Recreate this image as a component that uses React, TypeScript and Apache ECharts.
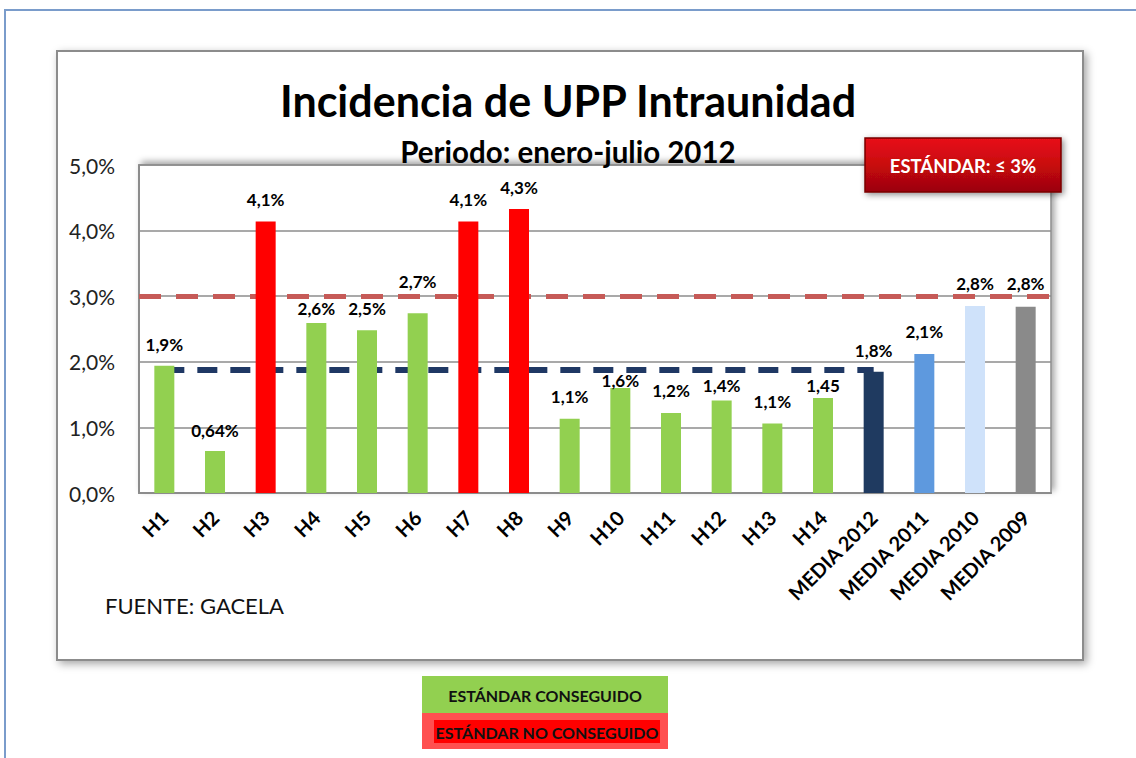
import React, { useEffect, useRef } from "react";
import * as echarts from "echarts";

const categories = ["H1", "H2", "H3", "H4", "H5", "H6", "H7", "H8", "H9", "H10", "H11", "H12", "H13", "H14", "MEDIA 2012", "MEDIA 2011", "MEDIA 2010", "MEDIA 2009"];
const values = [1.94, 0.64, 4.14, 2.59, 2.48, 2.74, 4.14, 4.33, 1.13, 1.6, 1.22, 1.41, 1.06, 1.45, 1.85, 2.12, 2.85, 2.84];
const valueLabels = ["1,9%", "0,64%", "4,1%", "2,6%", "2,5%", "2,7%", "4,1%", "4,3%", "1,1%", "1,6%", "1,2%", "1,4%", "1,1%", "1,45", "1,8%", "2,1%", "2,8%", "2,8%"];
const status = ["ok", "ok", "no", "ok", "ok", "ok", "no", "no", "ok", "ok", "ok", "ok", "ok", "ok", "m2012", "m2011", "m2010", "m2009"];
const standardValue = 3.0;
const media2012Line = 1.88;
const yTicks = [0, 1, 2, 3, 4, 5];

// manual label nudges (style only), pixels downward
const labelShift = [0, 1, 0, 7, 0, -10, 0, 0, -1, 14, -1, 6, 0, 9, 0, -1, -1, -2];

const statusColor: Record<string, string> = {
  ok: "#92D050",
  no: "#FF0000",
  m2012: "#1F3A60",
  m2011: "#5E99DE",
  m2010: "#CFE2FA",
  m2009: "#8A8A8A",
};

const FONT = "Lato, 'Open Sans', sans-serif";

export default function App() {
  const ref = useRef<HTMLDivElement>(null);
  useEffect(() => {
    if (!ref.current) return;
    const chart = echarts.init(ref.current, undefined, { renderer: "svg" });
    chart.setOption({
      animation: false,
      backgroundColor: "#ffffff",
      textStyle: { fontFamily: FONT },
      title: [
        {
          text: "Incidencia de UPP Intraunidad",
          left: "center",
          top: 74,
          textStyle: { fontSize: 43, fontWeight: "bold", color: "#000", fontFamily: FONT },
        },
        {
          text: "Periodo: enero-julio 2012",
          left: "center",
          top: 131,
          textStyle: { fontSize: 29.5, fontWeight: "bold", color: "#000", fontFamily: FONT },
        },
      ],
      graphic: [
        { type: "line", z: -10, shape: { x1: 4, y1: 10, x2: 1136, y2: 10 }, style: { stroke: "#7A9CCB", lineWidth: 2 } },
        { type: "line", z: -10, shape: { x1: 5, y1: 10, x2: 5, y2: 758 }, style: { stroke: "#7A9CCB", lineWidth: 2 } },
        {
          type: "rect",
          z: -9,
          shape: { x: 57, y: 51, width: 1026, height: 609 },
          style: { fill: "#fff", stroke: "#8C8C8C", lineWidth: 2, shadowBlur: 8, shadowOffsetX: 3, shadowOffsetY: 3, shadowColor: "rgba(0,0,0,0.35)" },
        },
        {
          type: "rect",
          z: 10,
          shape: { x: 865, y: 138, width: 196, height: 54 },
          style: {
            fill: new echarts.graphic.LinearGradient(0, 0, 0, 1, [
              { offset: 0, color: "#E8121A" },
              { offset: 0.5, color: "#C8080E" },
              { offset: 1, color: "#9A0408" },
            ]),
            stroke: "#7A0000",
            lineWidth: 1.5,
            shadowBlur: 6,
            shadowOffsetX: 2,
            shadowOffsetY: 2,
            shadowColor: "rgba(0,0,0,0.45)",
          },
        },
        {
          type: "text",
          z: 11,
          x: 963,
          y: 166,
          style: { text: "ESTÁNDAR: ≤ 3%", fill: "#fff", font: `bold 18.5px ${FONT}`, align: "center", verticalAlign: "middle" },
        },
        {
          type: "text",
          x: 105,
          y: 605,
          style: { text: "FUENTE: GACELA", fill: "#111", font: `22px ${FONT}`, verticalAlign: "middle" },
        },
        { type: "rect", shape: { x: 422, y: 676, width: 246, height: 37 }, style: { fill: "#92D050" } },
        {
          type: "text",
          x: 545,
          y: 695,
          style: { text: "ESTÁNDAR CONSEGUIDO", fill: "#111", font: `bold 16px ${FONT}`, align: "center", verticalAlign: "middle" },
        },
        { type: "rect", shape: { x: 422, y: 713, width: 246, height: 36 }, style: { fill: "#FF5050" } },
        { type: "rect", shape: { x: 434, y: 720, width: 226, height: 23 }, style: { fill: "#FF0000" } },
        {
          type: "text",
          x: 547,
          y: 732,
          style: { text: "ESTÁNDAR NO CONSEGUIDO", fill: "#111", font: `bold 16px ${FONT}`, align: "center", verticalAlign: "middle" },
        },
      ],
      grid: {
        left: 139,
        right: 85,
        top: 165,
        bottom: 265,
        show: true,
        backgroundColor: "#fff",
        borderColor: "#8C8C8C",
        borderWidth: 1.5,
        shadowBlur: 6,
        shadowOffsetX: 3,
        shadowOffsetY: -3,
        shadowColor: "rgba(0,0,0,0.35)",
      },
      xAxis: {
        type: "category",
        data: categories,
        axisLine: { show: true, lineStyle: { color: "#8C8C8C", width: 2 } },
        axisTick: { show: false },
        axisLabel: {
          interval: 0,
          rotate: 45,
          margin: 21,
          fontSize: 20,
          fontWeight: "bold",
          color: "#000",
          fontFamily: FONT,
        },
      },
      yAxis: {
        type: "value",
        min: yTicks[0],
        max: yTicks[yTicks.length - 1],
        interval: 1,
        axisLine: { show: true, lineStyle: { color: "#8C8C8C", width: 2 } },
        axisTick: { show: false },
        splitLine: { lineStyle: { color: "#8C8C8C", width: 1.5 } },
        axisLabel: {
          margin: 24,
          fontSize: 21,
          color: "#222",
          fontFamily: FONT,
          formatter: (v: number) => v.toFixed(1).replace(".", ",") + "%",
        },
      },
      series: [
        {
          type: "bar",
          barWidth: 20,
          data: values.map((v, i) => ({
            value: v,
            itemStyle: { color: statusColor[status[i]] },
            label: { offset: [0, labelShift[i]] },
          })),
          label: {
            show: true,
            position: "top",
            distance: 13,
            fontSize: 17,
            fontWeight: "bold",
            color: "#000",
            fontFamily: FONT,
            formatter: (p: any) => valueLabels[p.dataIndex],
          },
          markLine: {
            silent: true,
            symbol: "none",
            label: { show: false },
            z: 1,
            data: [
              { yAxis: standardValue, lineStyle: { color: "#C65A57", width: 5, type: [22, 15] } },
              [
                { coord: [categories[0], media2012Line], lineStyle: { color: "#1F3864", width: 6, type: [20, 13] } },
                { coord: [categories[14], media2012Line] },
              ],
            ],
          },
        },
      ],
    });
    return () => chart.dispose();
  }, []);
  return <div ref={ref} style={{ position: "fixed", left: 0, top: 0, width: 1136, height: 758 }} />;
}
